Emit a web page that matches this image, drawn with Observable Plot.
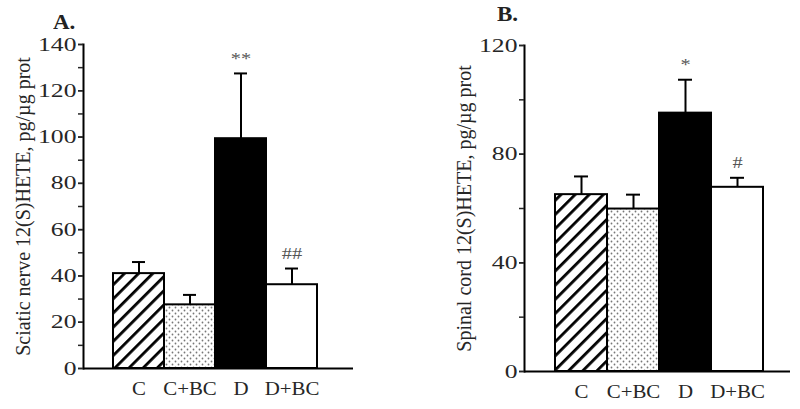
<!DOCTYPE html>
<html>
<head>
<meta charset="utf-8">
<script src="https://cdn.jsdelivr.net/npm/d3@7"></script>
<script src="https://cdn.jsdelivr.net/npm/@observablehq/plot@0.6"></script>
<style>
  html, body { margin: 0; padding: 0; background: #fff; }
  #wrap { position: relative; width: 800px; height: 409px; display: flex; }
  .panel { position: relative; width: 400px; height: 409px; }
  .tag { position: absolute; font-family: "Liberation Serif", serif; font-weight: bold; font-size: 20px; color: #222; transform: scaleX(1.15); transform-origin: left center; }
  svg { font-family: "Liberation Serif", serif; }
</style>
</head>
<body>
<div id="wrap">
  <div class="panel" id="pa"><div class="tag" style="left:53px;top:11px">A.</div></div>
  <div class="panel" id="pb"><div class="tag" style="left:97px;top:3px">B.</div></div>
</div>
<script>
// ---- data ----
const groups = ["C", "C+BC", "D", "D+BC"];
const fills = ["url(#hatch)", "url(#dots)", "black", "white"];

const sciaticMean = [41, 27.5, 99.3, 36.2];
const sciaticErr  = [46, 31.8, 127.5, 43.2];
const sciaticMark = ["", "", "**", "##"];

const spinalMean = [65.1, 59.8, 95.1, 67.8];
const spinalErr  = [71.8, 65.1, 107.4, 71.3];
const spinalMark = ["", "", "*", "#"];

const sciaticTicks = d3.range(0, 141, 20);
const sciaticMinor = d3.range(0, 141, 10);
const spinalTicks = d3.range(0, 121, 40);
const spinalMinor = d3.range(0, 121, 20);

function defsHTML(s) {
  return `
<defs>
  <pattern id="hatch${s}" patternUnits="userSpaceOnUse" width="10" height="10" patternTransform="rotate(45)">
    <rect width="10" height="10" fill="white"/>
    <rect x="0" y="0" width="2.8" height="10" fill="black"/>
  </pattern>
  <pattern id="dots${s}" patternUnits="userSpaceOnUse" width="6" height="6">
    <rect width="6" height="6" fill="white"/>
    <circle cx="1.5" cy="1.5" r="0.9" fill="#777"/>
    <circle cx="4.5" cy="4.5" r="0.9" fill="#777"/>
  </pattern>
</defs>`;
}

function stretch(svg, label, sx) {
  svg.querySelectorAll(`g[aria-label="${label}"] text`).forEach(t => {
    const tr = t.getAttribute("transform");
    if (tr) t.setAttribute("transform", tr + ` scale(${sx},1)`);
    else {
      const x = +t.getAttribute("x") || 0, y = +t.getAttribute("y") || 0;
      t.setAttribute("transform", `translate(${x},${y}) scale(${sx},1) translate(${-x},${-y})`);
    }
  });
}

function panel({mean, err, mark, ticks, minor, ymax, label, m, inset, labelOffset, suffix}) {
  const data = groups.map((g, i) => ({g, mean: mean[i], err: err[i], mark: mark[i],
    fill: fills[i].replace(/url\(#(\w+)\)/, `url(#$1${suffix})`)}));
  const svg = Plot.plot({
    width: 400,
    height: 409,
    marginLeft: m[0], marginRight: m[1], marginTop: m[2], marginBottom: m[3],
    style: {fontFamily: "Liberation Serif, serif", color: "#262626", background: "white"},
    x: {domain: groups, padding: 0, insetLeft: inset[0], insetRight: inset[1], axis: null},
    y: {domain: [0, ymax], axis: null},
    marks: [
      Plot.ruleX(data, {x: "g", y1: "mean", y2: "err", stroke: "black", strokeWidth: 2}),
      Plot.tickY(data, {x: "g", y: "err", stroke: "black", strokeWidth: 2, insetLeft: 19, insetRight: 19}),
      Plot.barY(data, {x: "g", y: "mean", fill: "fill", stroke: "black", strokeWidth: 2}),
      Plot.text(data, {x: "g", y: "err", text: "mark", dy: -15, fontSize: 17, fill: "#555"}),
      Plot.frame({anchor: "left", stroke: "black", strokeWidth: 2}),
      Plot.ruleY([0], {stroke: "black", strokeWidth: 2}),
      Plot.axisY({ticks: minor, tickFormat: () => "", tickSize: 5, strokeWidth: 1.5, label: null}),
      Plot.axisY({ticks, tickSize: 5, tickPadding: 2, fontSize: 19, strokeWidth: 1.5,
                  label, labelAnchor: "center", labelArrow: "none", labelOffset}),
      Plot.axisX({tickSize: 0, tickPadding: 13, fontSize: 19, label: null})
    ]
  });
  svg.insertAdjacentHTML("afterbegin", defsHTML(suffix));
  stretch(svg, "y-axis tick label", 1.35);
  stretch(svg, "x-axis tick label", 1.1);
  stretch(svg, "text", 1.2);
  svg.querySelectorAll('g[aria-label="y-axis label"] text').forEach(t => t.setAttribute("font-size", 20));
  return svg;
}

document.getElementById("pa").appendChild(panel({
  mean: sciaticMean, err: sciaticErr, mark: sciaticMark,
  ticks: sciaticTicks, minor: sciaticMinor, ymax: 140,
  label: "Sciatic nerve 12(S)HETE, pg/µg prot",
  m: [83, 47, 44, 41], inset: [28, 35], labelOffset: 68, suffix: "A"
}));
document.getElementById("pb").appendChild(panel({
  mean: spinalMean, err: spinalErr, mark: spinalMark,
  ticks: spinalTicks, minor: spinalMinor, ymax: 120,
  label: "Spinal cord 12(S)HETE, pg/µg prot",
  m: [124, 10, 45, 38], inset: [30, 26], labelOffset: 68, suffix: "B"
}));
</script>
</body>
</html>
